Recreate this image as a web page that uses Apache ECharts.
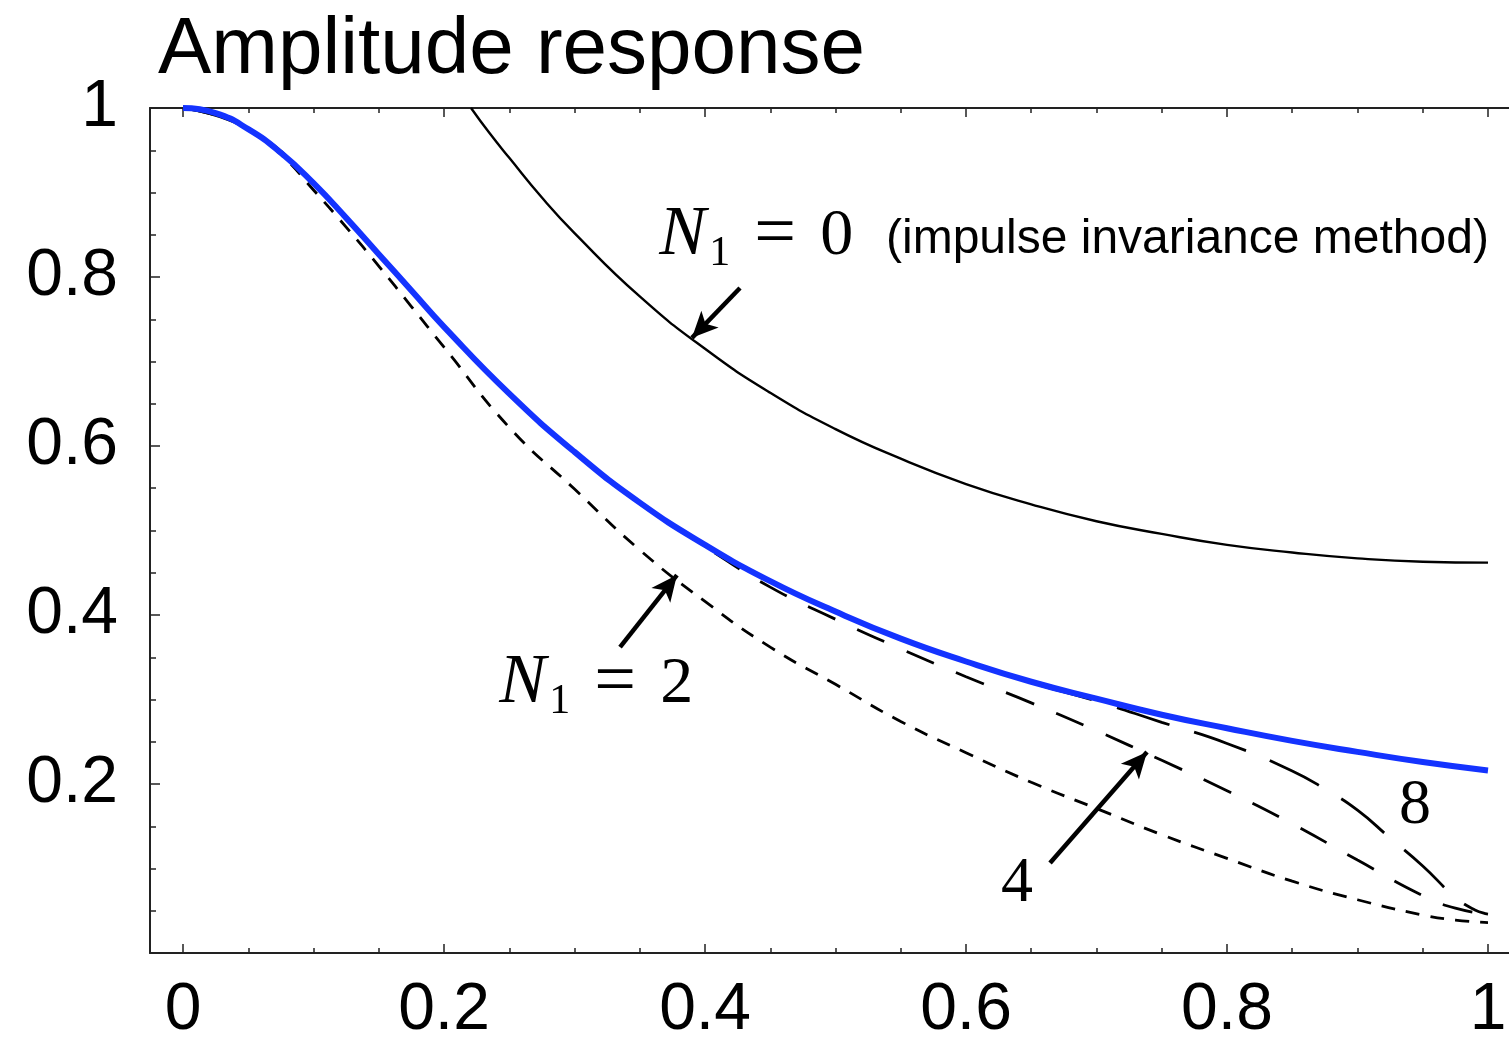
<!DOCTYPE html>
<html>
<head>
<meta charset="utf-8">
<style>
html,body{margin:0;padding:0;background:#fff;}
#c{width:1509px;height:1039px;}
</style>
<script src="https://cdn.jsdelivr.net/npm/echarts@6/dist/echarts.min.js"></script>
</head>
<body>
<div id="c"></div>
<script>
// ---- data ----
const titleText = 'Amplitude response';

const xMajorTicks = [0, 0.2, 0.4, 0.6, 0.8, 1];
const xMinorTicks = [0.05,0.1,0.15,0.25,0.3,0.35,0.45,0.5,0.55,0.65,0.7,0.75,0.85,0.9,0.95];
const yMajorTicks = [0, 0.2, 0.4, 0.6, 0.8, 1];
const yLabelTicks = [0.2, 0.4, 0.6, 0.8, 1];
const yMinorTicks = [0.05,0.1,0.15,0.25,0.3,0.35,0.45,0.5,0.55,0.65,0.7,0.75,0.85,0.9,0.95];

// analog (blue) response
const freqAnalog = [0,0.025,0.05,0.075,0.1,0.125,0.15,0.175,0.2,0.25,0.3,0.35,0.4,0.45,0.5,0.55,0.6,0.65,0.7,0.75,0.8,0.85,0.9,0.95,1];
const ampAnalog  = [1,0.994,0.975,0.947,0.911,0.870,0.827,0.784,0.741,0.662,0.593,0.533,0.483,0.440,0.404,0.372,0.345,0.321,0.301,0.282,0.266,0.251,0.238,0.226,0.216];

// N1 = 0 (impulse invariance), clipped at the top
const freqN0 = [0.2207,0.235,0.25,0.275,0.3,0.35,0.4,0.45,0.5,0.55,0.6,0.65,0.7,0.75,0.8,0.85,0.9,0.95,1];
const ampN0  = [1,0.970,0.941,0.894,0.852,0.777,0.715,0.663,0.620,0.585,0.555,0.531,0.511,0.496,0.483,0.474,0.467,0.463,0.462];

// N1 = 2 (short dashes)
const freqN2 = [0,0.025,0.05,0.075,0.1,0.125,0.15,0.175,0.2,0.25,0.3,0.35,0.4,0.45,0.5,0.55,0.6,0.65,0.7,0.75,0.8,0.85,0.9,0.95,0.975,1];
const ampN2  = [1,0.994,0.974,0.945,0.903,0.859,0.813,0.765,0.717,0.622,0.549,0.477,0.416,0.362,0.318,0.274,0.237,0.202,0.171,0.140,0.112,0.085,0.063,0.045,0.039,0.036];

// N1 = 4 (medium dashes)
const freqN4 = [0,0.05,0.1,0.15,0.2,0.25,0.3,0.35,0.4,0.45,0.5,0.55,0.6,0.65,0.7,0.75,0.8,0.85,0.9,0.95,0.975,1];
const ampN4  = [1,0.975,0.910,0.826,0.740,0.661,0.592,0.532,0.481,0.433,0.395,0.360,0.327,0.296,0.263,0.228,0.192,0.153,0.110,0.068,0.053,0.046];

// N1 = 8 (long dashes)
const freqN8 = [0,0.05,0.1,0.15,0.2,0.25,0.3,0.35,0.4,0.45,0.5,0.55,0.6,0.65,0.7,0.75,0.8,0.85,0.875,0.9,0.925,0.95,0.975,0.99,1];
const ampN8  = [1,0.975,0.911,0.827,0.741,0.662,0.592,0.533,0.483,0.440,0.404,0.372,0.345,0.320,0.298,0.273,0.248,0.2155,0.194,0.169,0.136,0.103,0.066,0.051,0.046];

// annotation arrows (data coordinates: from -> tip)
const arrowN0 = [[0.4268, 0.787], [0.390, 0.728]];
const arrowN2 = [[0.3349, 0.362], [0.3785, 0.4473]];
const arrowN4 = [[0.6644, 0.1065], [0.7387, 0.2379]];

// annotation anchors (data coordinates)
const labelN0Anchor = [0.3650, 0.8485];
const labelN2Anchor = [0.2424, 0.3183];
const labelMethodAnchor = [0.5387, 0.8438];
const label4Anchor = [0.639, 0.0817];
const label8Anchor = [0.944, 0.174];

// ---- chart ----
const zip = (xs, ys) => xs.map((x, i) => [x, ys[i]]);
const fmt = v => String(Math.round(v * 100) / 100);
const X_MIN = -0.0253, X_MAX = 1.0161;
const AX = '#222';

const chart = echarts.init(document.getElementById('c'), null, {renderer: 'canvas'});

function xAxisDef(pos, ticks, len, showLine, showLabel) {
  return {
    type: 'value', position: pos, min: X_MIN, max: X_MAX,
    axisLine: {show: showLine, onZero: false, lineStyle: {color: AX, width: 2}},
    axisTick: {show: true, inside: true, length: len, customValues: ticks, lineStyle: {color: AX, width: 1.5}},
    axisLabel: showLabel ? {show: true, customValues: ticks, formatter: fmt, fontSize: 66,
      fontFamily: 'Liberation Sans', color: '#000', margin: 25, hideOverlap: false} : {show: false},
    splitLine: {show: false}
  };
}
function yAxisDef(ticks, len, showLine, labels) {
  return {
    type: 'value', position: 'left', min: 0, max: 1,
    axisLine: {show: showLine, onZero: false, lineStyle: {color: AX, width: 2}},
    axisTick: {show: true, inside: true, length: len, customValues: ticks, lineStyle: {color: AX, width: 1.5}},
    axisLabel: labels ? {show: true, customValues: labels, formatter: fmt, fontSize: 66,
      fontFamily: 'Liberation Sans', color: '#000', margin: 32} : {show: false},
    splitLine: {show: false}
  };
}

function lineSeries(name, xs, ys, color, width, type, z) {
  return {
    name: name, type: 'line', xAxisIndex: 0, yAxisIndex: 0,
    data: zip(xs, ys), symbol: 'none', showSymbol: false,
    smooth: 0.5, clip: true, z: z,
    lineStyle: {color: color, width: width, type: type, cap: 'butt'},
    emphasis: {disabled: true}
  };
}

const arrowData = [arrowN0, arrowN2, arrowN4].map(a => [{coord: a[0]}, {coord: a[1]}]);

const n0 = lineSeries('N1=0', freqN0, ampN0, '#000', 2.4, 'solid', 3);
n0.markLine = {
  silent: true, animation: false,
  symbol: ['none', 'arrow'], symbolSize: [18, 26],
  lineStyle: {color: '#000', width: 4.5, type: 'solid'},
  label: {show: false},
  emphasis: {disabled: true},
  data: arrowData
};

chart.setOption({
  animation: false,
  backgroundColor: '#fff',
  title: {
    text: titleText, left: 158, top: 11, padding: 0,
    textStyle: {fontSize: 80, fontFamily: 'Liberation Sans', fontWeight: 'normal', color: '#000'}
  },
  grid: {left: 150, right: 0, top: 108, bottom: 86, containLabel: false, outerBoundsMode: 'none'},
  xAxis: [
    xAxisDef('bottom', xMajorTicks, 9, true, true),
    xAxisDef('bottom', xMinorTicks, 5, false, false),
    xAxisDef('top', xMajorTicks, 9, true, false),
    xAxisDef('top', xMinorTicks, 5, false, false)
  ],
  yAxis: [
    yAxisDef(yMajorTicks, 10, true, yLabelTicks),
    yAxisDef(yMinorTicks, 6, false, null)
  ],
  series: [
    lineSeries('N1=2', freqN2, ampN2, '#000', 2.8, [14, 11], 2),
    lineSeries('N1=4', freqN4, ampN4, '#000', 2.8, [30, 24], 2),
    lineSeries('N1=8', freqN8, ampN8, '#000', 2.8, [55, 26], 2),
    n0,
    lineSeries('analog', freqAnalog, ampAnalog, '#1433ff', 6, 'solid', 5)
  ]
});

const px = p => chart.convertToPixel({xAxisIndex: 0, yAxisIndex: 0}, p);
function txt(x, y, text, font, align) {
  return {type: 'text', x: x, y: y, z: 100, silent: true,
    style: {text: text, font: font, fill: '#000', align: align || 'left', verticalAlign: 'middle',
            textAlign: align || 'left', textVerticalAlign: 'middle'}};
}
const SERIF = '"Liberation Serif", "DejaVu Serif", serif';
function mathLabel(anchor, digit) {
  const p = px(anchor);
  return [
    txt(p[0], p[1], 'N', 'italic 70px ' + SERIF),
    txt(p[0] + 50, p[1] + 18, '1', '42px ' + SERIF),
    txt(p[0] + 95, p[1], '=', '74px ' + SERIF),
    txt(p[0] + 161, p[1] + 1, digit, '66px ' + SERIF)
  ];
}
const pm = px(labelMethodAnchor), p4 = px(label4Anchor), p8 = px(label8Anchor);
chart.setOption({
  graphic: [].concat(
    mathLabel(labelN0Anchor, '0'),
    mathLabel(labelN2Anchor, '2'),
    [txt(pm[0], pm[1], '(impulse invariance method)', '48px "Liberation Sans", Arial, sans-serif'),
     txt(p4[0], p4[1], '4', '64px ' + SERIF, 'center'),
     txt(p8[0], p8[1], '8', '64px ' + SERIF, 'center')]
  )
});
</script>
</body>
</html>
